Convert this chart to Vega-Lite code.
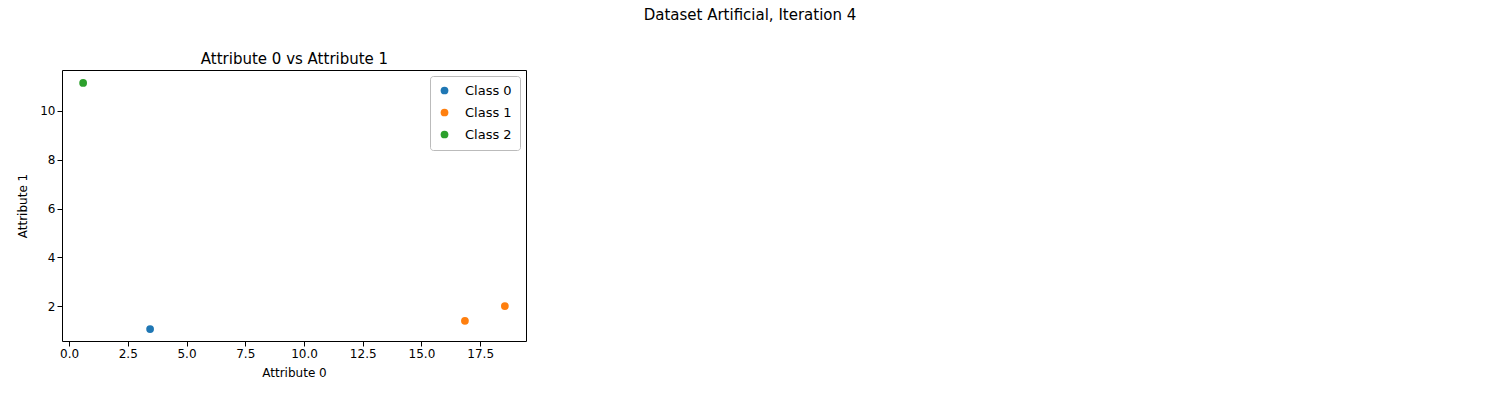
{
  "$schema": "https://vega.github.io/schema/vega-lite/v6.json",
  "width": 464,
  "height": 271,
  "autosize": {"type": "none"},
  "padding": {"left": 62, "top": 70, "right": 974, "bottom": 59},
  "background": "white",
  "title": {"text": "Dataset Artificial, Iteration 4", "anchor": "middle", "dx": 456, "offset": 28, "fontSize": 15, "fontWeight": "normal", "font": "DejaVu Sans"},
  "config": {
    "font": "DejaVu Sans",
    "view": {"stroke": "black", "strokeWidth": 1},
    "axis": {"grid": false, "labelFontSize": 12, "titleFontSize": 12, "titleFontWeight": "normal", "domain": false, "tickColor": "black", "labelColor": "black", "titleColor": "black"}
  },
  "data": {"values": [
    {"a0": 3.45, "a1": 1.06, "cls": "Class 0"},
    {"a0": 16.85, "a1": 1.4, "cls": "Class 1"},
    {"a0": 18.55, "a1": 2.0, "cls": "Class 1"},
    {"a0": 0.6, "a1": 11.15, "cls": "Class 2"}
  ]},
  "resolve": {"axis": {"x": "independent"}},
  "layer": [
    {
      "mark": {"type": "point", "filled": true, "opacity": 1, "size": 60},
      "encoding": {
        "x": {"field": "a0", "type": "quantitative", "title": "Attribute 0", "scale": {"domain": [-0.3, 19.45], "nice": false, "zero": false},
              "axis": {"values": [0, 2.5, 5, 7.5, 10, 12.5, 15, 17.5], "format": ".1f", "titlePadding": 8}},
        "y": {"field": "a1", "type": "quantitative", "title": "Attribute 1", "scale": {"domain": [0.57, 11.68], "nice": false, "zero": false},
              "axis": {"values": [2, 4, 6, 8, 10], "titlePadding": 10}},
        "color": {"field": "cls", "type": "nominal", "title": null,
                  "scale": {"domain": ["Class 0", "Class 1", "Class 2"], "range": ["#1f77b4", "#ff7f0e", "#2ca02c"]},
                  "legend": {"orient": "top-right", "offset": 6, "strokeColor": "#bbbbbb", "fillColor": "white", "padding": 8, "cornerRadius": 3, "labelFontSize": 13, "labelOffset": 14, "symbolSize": 60, "symbolType": "circle", "rowPadding": 8}}
      }
    },
    {
      "mark": {"type": "point", "opacity": 0},
      "encoding": {
        "x": {"field": "a0", "type": "quantitative", "title": "Attribute 0 vs Attribute 1",
              "axis": {"orient": "top", "labels": false, "ticks": false, "domain": false, "titleFontSize": 15, "titlePadding": 4}}
      }
    }
  ]
}
